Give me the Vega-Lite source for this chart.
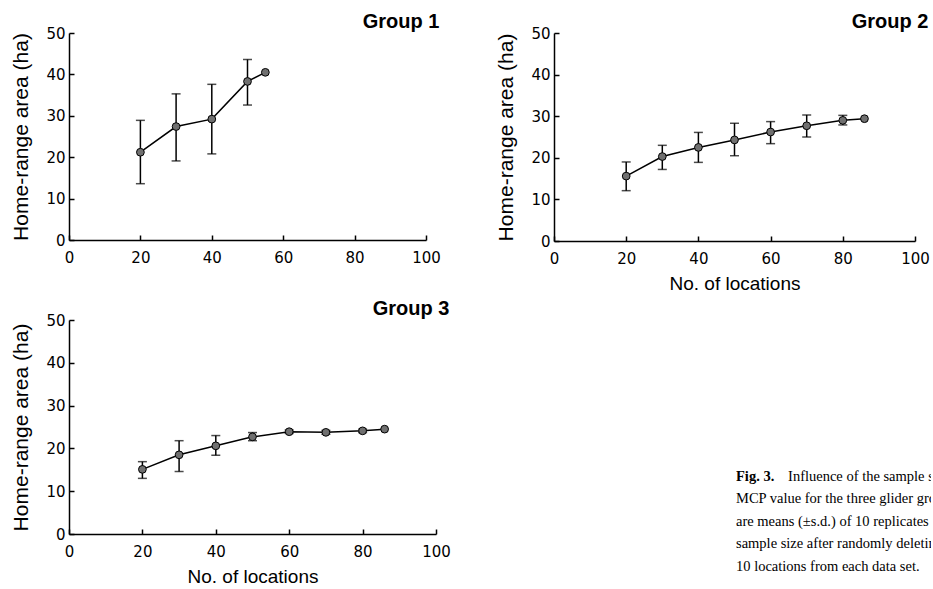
{
  "$schema": "https://vega.github.io/schema/vega-lite/v6.json",
  "padding": {"left": 10, "top": 12, "right": 0, "bottom": 0},
  "background": "white",
  "data": {
    "values": [
      {"group": 1, "n": 20, "mean": 21.2, "lo": 13.6, "hi": 28.9},
      {"group": 1, "n": 30, "mean": 27.4, "lo": 19.1, "hi": 35.3},
      {"group": 1, "n": 40, "mean": 29.2, "lo": 20.8, "hi": 37.6},
      {"group": 1, "n": 50, "mean": 38.3, "lo": 32.6, "hi": 43.6},
      {"group": 1, "n": 55, "mean": 40.5, "lo": null, "hi": null},
      {"group": 2, "n": 20, "mean": 15.6, "lo": 12.1, "hi": 19.0},
      {"group": 2, "n": 30, "mean": 20.3, "lo": 17.2, "hi": 23.0},
      {"group": 2, "n": 40, "mean": 22.5, "lo": 18.9, "hi": 26.1},
      {"group": 2, "n": 50, "mean": 24.3, "lo": 20.5, "hi": 28.3},
      {"group": 2, "n": 60, "mean": 26.2, "lo": 23.4, "hi": 28.7},
      {"group": 2, "n": 70, "mean": 27.7, "lo": 25.0, "hi": 30.3},
      {"group": 2, "n": 80, "mean": 29.0, "lo": 27.9, "hi": 30.2},
      {"group": 2, "n": 86, "mean": 29.4, "lo": null, "hi": null},
      {"group": 3, "n": 20, "mean": 15.1, "lo": 13.0, "hi": 16.9},
      {"group": 3, "n": 30, "mean": 18.5, "lo": 14.6, "hi": 21.8},
      {"group": 3, "n": 40, "mean": 20.6, "lo": 18.4, "hi": 23.0},
      {"group": 3, "n": 50, "mean": 22.7, "lo": 21.8, "hi": 23.7},
      {"group": 3, "n": 60, "mean": 23.9, "lo": 23.5, "hi": 24.3},
      {"group": 3, "n": 70, "mean": 23.75, "lo": 23.3, "hi": 24.2},
      {"group": 3, "n": 80, "mean": 24.1, "lo": 23.7, "hi": 24.5},
      {"group": 3, "n": 86, "mean": 24.5, "lo": null, "hi": null}
    ]
  },
  "config": {
    "view": {"stroke": null},
    "font": "Liberation Sans",
    "axis": {
      "domainColor": "black", "domainWidth": 1.5,
      "tickColor": "black", "tickWidth": 1.5, "tickSize": -5,
      "labelPadding": 9, "labelColor": "black", "labelFontSize": 15,
      "labelFont": "DejaVu Sans", "labelFlush": false, "grid": false,
      "titleColor": "black", "titleFont": "Liberation Sans",
      "titleFontSize": 19, "titleFontWeight": "normal"
    },
    "axisY": {"titlePadding": 14, "titleFontSize": 21},
    "axisX": {"titlePadding": 8, "labelPadding": 15},
    "title": {"anchor": "end", "fontSize": 20, "fontWeight": "bold", "font": "Liberation Sans", "color": "black", "dx": -1, "offset": -6}
  },
  "spacing": 6,
  "vconcat": [
    {
      "bounds": "flush",
      "spacing": 128,
      "hconcat": [
        {
          "width": 357, "height": 207,
          "title": {"text": "Group 1"},
          "transform": [{"filter": "datum.group === 1"}],
          "layer": [
            {"mark": {"type": "line", "color": "black", "strokeWidth": 1.5},
             "encoding": {
               "x": {"field": "n", "type": "quantitative", "scale": {"domain": [0, 100]}, "axis": {"values": [0, 20, 40, 60, 80, 100], "title": null}},
               "y": {"field": "mean", "type": "quantitative", "scale": {"domain": [0, 50]}, "axis": {"values": [0, 10, 20, 30, 40, 50], "title": "Home-range area (ha)"}}}},
            {"transform": [{"filter": "isValid(datum.lo)"}],
             "mark": {"type": "errorbar", "color": "black", "thickness": 1.5, "ticks": {"size": 9}},
             "encoding": {
               "x": {"field": "n", "type": "quantitative", "scale": {"domain": [0, 100]}, "axis": {"values": [0, 20, 40, 60, 80, 100], "title": null}},
               "y": {"field": "lo", "type": "quantitative", "scale": {"domain": [0, 50]}, "axis": {"values": [0, 10, 20, 30, 40, 50], "title": "Home-range area (ha)"}},
               "y2": {"field": "hi"}}},
            {"mark": {"type": "point", "shape": "circle", "filled": true, "fill": "#707070", "stroke": "black", "strokeWidth": 1, "size": 60, "opacity": 1},
             "encoding": {
               "x": {"field": "n", "type": "quantitative", "scale": {"domain": [0, 100]}, "axis": {"values": [0, 20, 40, 60, 80, 100], "title": null}},
               "y": {"field": "mean", "type": "quantitative", "scale": {"domain": [0, 50]}, "axis": {"values": [0, 10, 20, 30, 40, 50], "title": "Home-range area (ha)"}}}}
          ]
        },
        {
          "width": 361, "height": 208,
          "title": {"text": "Group 2"},
          "transform": [{"filter": "datum.group === 2"}],
          "layer": [
            {"mark": {"type": "line", "color": "black", "strokeWidth": 1.5},
             "encoding": {
               "x": {"field": "n", "type": "quantitative", "scale": {"domain": [0, 100]}, "axis": {"values": [0, 20, 40, 60, 80, 100], "title": "No. of locations"}},
               "y": {"field": "mean", "type": "quantitative", "scale": {"domain": [0, 50]}, "axis": {"values": [0, 10, 20, 30, 40, 50], "title": "Home-range area (ha)"}}}},
            {"transform": [{"filter": "isValid(datum.lo)"}],
             "mark": {"type": "errorbar", "color": "black", "thickness": 1.5, "ticks": {"size": 9}},
             "encoding": {
               "x": {"field": "n", "type": "quantitative", "scale": {"domain": [0, 100]}, "axis": {"values": [0, 20, 40, 60, 80, 100], "title": "No. of locations"}},
               "y": {"field": "lo", "type": "quantitative", "scale": {"domain": [0, 50]}, "axis": {"values": [0, 10, 20, 30, 40, 50], "title": "Home-range area (ha)"}},
               "y2": {"field": "hi"}}},
            {"mark": {"type": "point", "shape": "circle", "filled": true, "fill": "#707070", "stroke": "black", "strokeWidth": 1, "size": 60, "opacity": 1},
             "encoding": {
               "x": {"field": "n", "type": "quantitative", "scale": {"domain": [0, 100]}, "axis": {"values": [0, 20, 40, 60, 80, 100], "title": "No. of locations"}},
               "y": {"field": "mean", "type": "quantitative", "scale": {"domain": [0, 50]}, "axis": {"values": [0, 10, 20, 30, 40, 50], "title": "Home-range area (ha)"}}}}
          ]
        }
      ]
    },
    {
      "bounds": "flush",
      "spacing": 300,
      "hconcat": [
        {
          "width": 367, "height": 214,
          "title": {"text": "Group 3"},
          "transform": [{"filter": "datum.group === 3"}],
          "layer": [
            {"mark": {"type": "line", "color": "black", "strokeWidth": 1.5},
             "encoding": {
               "x": {"field": "n", "type": "quantitative", "scale": {"domain": [0, 100]}, "axis": {"values": [0, 20, 40, 60, 80, 100], "title": "No. of locations"}},
               "y": {"field": "mean", "type": "quantitative", "scale": {"domain": [0, 50]}, "axis": {"values": [0, 10, 20, 30, 40, 50], "title": "Home-range area (ha)"}}}},
            {"transform": [{"filter": "isValid(datum.lo)"}],
             "mark": {"type": "errorbar", "color": "black", "thickness": 1.5, "ticks": {"size": 9}},
             "encoding": {
               "x": {"field": "n", "type": "quantitative", "scale": {"domain": [0, 100]}, "axis": {"values": [0, 20, 40, 60, 80, 100], "title": "No. of locations"}},
               "y": {"field": "lo", "type": "quantitative", "scale": {"domain": [0, 50]}, "axis": {"values": [0, 10, 20, 30, 40, 50], "title": "Home-range area (ha)"}},
               "y2": {"field": "hi"}}},
            {"mark": {"type": "point", "shape": "circle", "filled": true, "fill": "#707070", "stroke": "black", "strokeWidth": 1, "size": 60, "opacity": 1},
             "encoding": {
               "x": {"field": "n", "type": "quantitative", "scale": {"domain": [0, 100]}, "axis": {"values": [0, 20, 40, 60, 80, 100], "title": "No. of locations"}},
               "y": {"field": "mean", "type": "quantitative", "scale": {"domain": [0, 50]}, "axis": {"values": [0, 10, 20, 30, 40, 50], "title": "Home-range area (ha)"}}}}
          ]
        },
        {
          "width": 195, "height": 260,
          "data": {
            "values": [
              {"line": 1, "pos": 0, "bold": true, "text": "Fig. 3."},
              {"line": 1, "pos": 0.267, "bold": false, "text": "Influence of the sample size on the"},
              {"line": 2, "pos": 0, "bold": false, "text": "MCP value for the three glider groups. Values"},
              {"line": 3, "pos": 0, "bold": false, "text": "are means (±s.d.) of 10 replicates for each"},
              {"line": 4, "pos": 0, "bold": false, "text": "sample size after randomly deleting sets of"},
              {"line": 5, "pos": 0, "bold": false, "text": "10 locations from each data set."}
            ]
          },
          "layer": [
            {"transform": [{"filter": "datum.bold"}],
             "mark": {"type": "text", "align": "left", "baseline": "middle", "font": "Liberation Serif", "fontSize": 14.5, "fontWeight": "bold", "color": "black", "clip": true},
             "encoding": {
               "x": {"field": "pos", "type": "quantitative", "scale": {"domain": [0, 1]}, "axis": null},
               "y": {"field": "line", "type": "quantitative", "scale": {"domain": [-5.98, 5.58], "reverse": true}, "axis": null},
               "text": {"field": "text"}}},
            {"transform": [{"filter": "!datum.bold"}],
             "mark": {"type": "text", "align": "left", "baseline": "middle", "font": "Liberation Serif", "fontSize": 14.5, "color": "black", "clip": true},
             "encoding": {
               "x": {"field": "pos", "type": "quantitative", "scale": {"domain": [0, 1]}, "axis": null},
               "y": {"field": "line", "type": "quantitative", "scale": {"domain": [-5.98, 5.58], "reverse": true}, "axis": null},
               "text": {"field": "text"}}}
          ]
        }
      ]
    }
  ]
}
